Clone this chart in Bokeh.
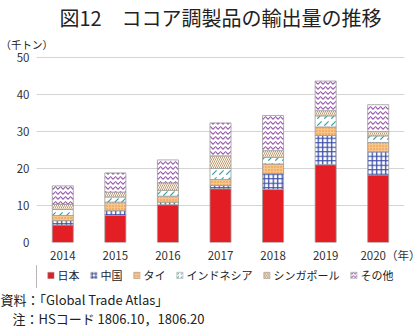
from bokeh.plotting import figure
from bokeh.models import Range1d, FixedTicker, Title, Legend, LegendItem
from bokeh.layouts import column
from bokeh.embed import file_html
from bokeh.resources import INLINE

years = ["2014", "2015", "2016", "2017", "2018", "2019", "2020"]
year_labels = ["2014", "2015", "2016", "2017", "2018", "2019", "\u3000\u3000\u30002020（年）"]
series = ["日本", "中国", "タイ", "インドネシア", "シンガポール", "その他"]
japan = [4.7, 7.3, 10.2, 14.5, 14.3, 21.0, 18.2]
china = [1.2, 1.3, 0.7, 0.9, 4.3, 7.9, 6.3]
thai = [1.4, 2.3, 1.6, 1.6, 2.6, 2.3, 2.5]
indonesia = [1.6, 1.4, 1.6, 3.0, 1.8, 3.0, 1.8]
singapore = [1.4, 1.3, 2.0, 3.4, 1.8, 1.4, 1.2]
others = [5.0, 5.2, 6.2, 8.9, 9.5, 8.0, 7.2]
yticks = [0, 10, 20, 30, 40, 50]
title_text = "図12　ココア調製品の輸出量の推移"
unit_text = "（千トン）"
source_text = "資料：「Global Trade Atlas」"
note_text = "注：HSコード 1806.10，1806.20"

FONT = "Noto Sans CJK JP"
W = 420
H_MAIN, H_BOT = 265, 66

fills = ["#e31e24", "white", "#f9c68a", "white", "white", "white"]
hatches = ["blank", "cross", "dot", "right_diagonal_dash", "left_diagonal_line", "horizontal_wave"]
hcolors = ["#e31e24", "#3b4ea8", "#e8893a", "#3a9e9e", "#c49a6a", "#9a5bb0"]
hscales = [6, 4.5, 3, 7, 4, 5]
hweights = [1, 1.3, 1.2, 1.2, 1, 1.1]


def add_title(f, text, size, place, align="left", offset=0, standoff=0):
    f.add_layout(Title(text=text, text_font=FONT, text_font_size=size, align=align,
                       offset=offset, standoff=standoff, text_color="#222222",
                       text_font_style="normal"), place)


# main chart
xpos = list(range(len(years)))
data = dict(x=xpos, s0=japan, s1=china, s2=thai, s3=indonesia, s4=singapore, s5=others)

p = figure(width=W, height=H_MAIN, x_range=Range1d(-0.5, len(years) - 0.5), y_range=Range1d(0, 50.5),
           output_backend="svg", toolbar_location=None,
           min_border_left=36, min_border_right=16, min_border_top=0, min_border_bottom=23)
p.outline_line_color = None
p.vbar_stack(["s0", "s1", "s2", "s3", "s4", "s5"], x="x", width=0.4, source=data,
             fill_color=fills, hatch_pattern=hatches, hatch_color=hcolors,
             hatch_scale=hscales, hatch_weight=hweights,
             line_color="#9a9a9a", line_width=0.8)

p.yaxis.ticker = FixedTicker(ticks=yticks)
p.xaxis.ticker = FixedTicker(ticks=xpos)
p.xaxis.major_label_overrides = {i: lab for i, lab in zip(xpos, year_labels)}
p.xgrid.grid_line_color = None
p.ygrid.grid_line_color = "#d4d4d4"
p.ygrid.grid_line_width = 1
for ax in (p.xaxis[0], p.yaxis[0]):
    ax.axis_line_color = None
    ax.major_tick_line_color = None
    ax.minor_tick_line_color = None
    ax.major_tick_out = 0
    ax.major_tick_in = 0
    ax.minor_tick_out = 0
    ax.minor_tick_in = 0
    ax.major_label_text_font = FONT
    ax.major_label_text_font_size = "11.5px"
    ax.major_label_text_color = "#333333"
p.yaxis.major_label_standoff = 7
p.xaxis.major_label_standoff = 4

add_title(p, unit_text, "10.5px", "above", offset=-36, standoff=7)
add_title(p, title_text, "20px", "above", align="center", standoff=0)

# bottom: legend + notes
bot = figure(width=W, height=H_BOT, x_range=Range1d(0, 1), y_range=Range1d(0, 1),
             x_axis_type=None, y_axis_type=None, output_backend="svg",
             toolbar_location=None, min_border_left=36, min_border_right=16,
             min_border_top=0, min_border_bottom=44)
bot.grid.visible = False
bot.outline_line_color = None
items = []
for i, name in enumerate(series):
    r = bot.vbar(x=[-999], top=[1], width=1, fill_color=fills[i], hatch_pattern=hatches[i],
                 hatch_color=hcolors[i], hatch_scale=min(hscales[i], 3.5), hatch_weight=1,
                 line_color="#9a9a9a", line_width=0.6)
    items.append(LegendItem(label=name, renderers=[r]))
lg = Legend(items=items, orientation="horizontal", location="top_center",
            glyph_width=8, glyph_height=8, label_height=12, label_standoff=3,
            spacing=10, padding=0, margin=2, border_line_color=None,
            background_fill_alpha=0, label_text_font=FONT, label_text_font_size="11px",
            label_text_color="#222222")
bot.add_layout(lg)
add_title(bot, source_text, "13px", "below", offset=-36, standoff=0)
add_title(bot, note_text, "13px", "below", offset=-24, standoff=-3)

layout = column(p, bot, spacing=0)
open("out.html", "w").write(file_html(layout, INLINE))
